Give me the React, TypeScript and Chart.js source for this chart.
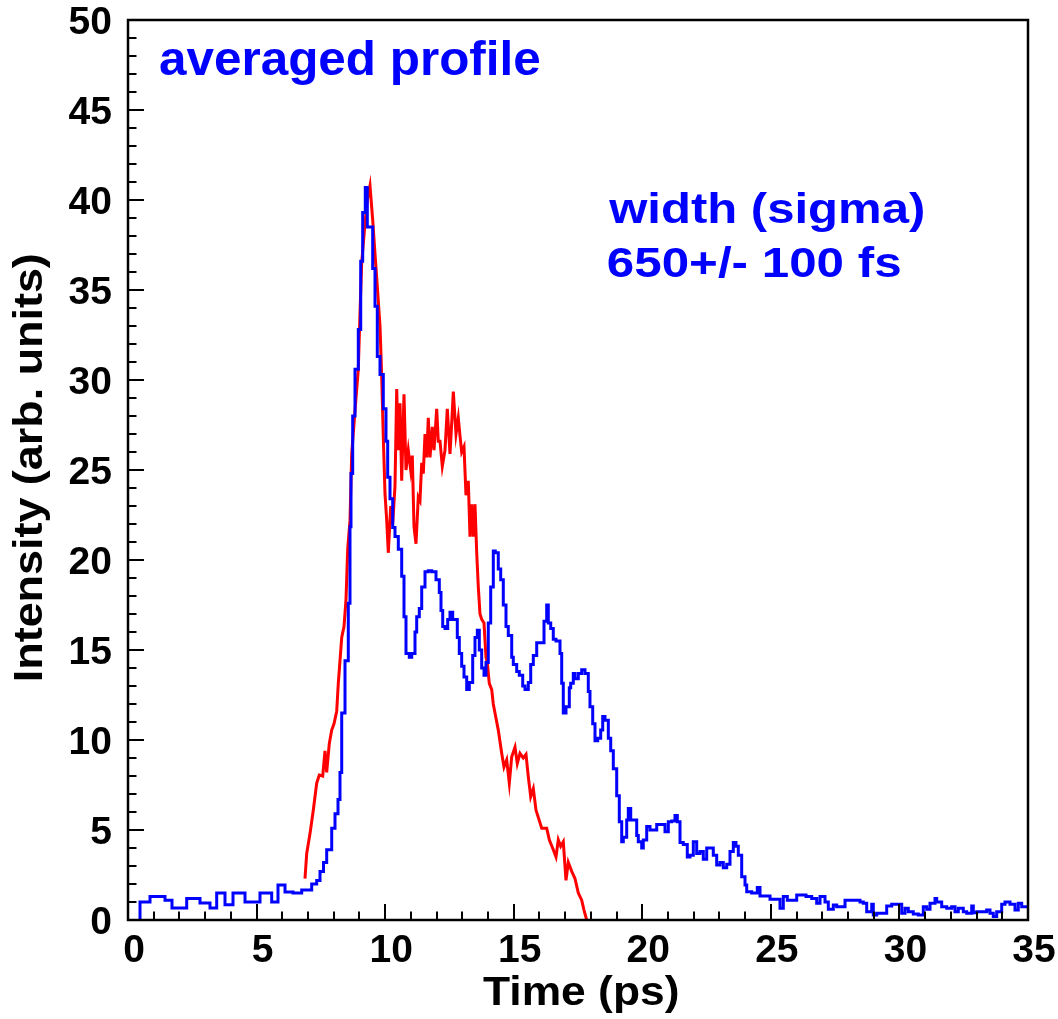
import React, { useEffect, useRef } from "react";
import { Chart, registerables } from "chart.js";

Chart.register(...registerables);

// ---- data ----
const blueX = [
  0.467, 0.467, 0.856, 1.439, 1.711, 2.283, 2.800, 3.189, 3.449, 3.772,
  4.083, 4.550, 5.133, 5.588, 5.833, 6.106, 6.417, 6.755, 7.144, 7.338,
  7.467, 7.603, 7.727, 7.922, 8.050, 8.167, 8.244, 8.311, 8.439, 8.567,
  8.633, 8.672, 8.738, 8.828, 8.956, 9.050, 9.127, 9.228, 9.306, 9.516,
  9.606, 9.695, 9.800, 9.928, 10.033, 10.099, 10.189, 10.294, 10.383, 10.512,
  10.644, 10.733, 10.811, 10.939, 11.033, 11.161, 11.227, 11.328, 11.422, 11.550,
  11.678, 11.811, 11.978, 12.106, 12.172, 12.239, 12.328, 12.433, 12.522, 12.627,
  12.806, 12.884, 12.977, 13.067, 13.172, 13.273, 13.405, 13.494, 13.584, 13.662,
  13.755, 13.844, 13.922, 14.011, 14.105, 14.206, 14.284, 14.400, 14.494, 14.595,
  14.700, 14.789, 14.922, 14.984, 15.116, 15.217, 15.350, 15.439, 15.567, 15.661,
  15.762, 15.894, 16.178, 16.283, 16.345, 16.439, 16.539, 16.644, 16.800, 16.866,
  16.928, 17.033, 17.162, 17.216, 17.317, 17.383, 17.512, 17.644, 17.772, 17.900,
  17.966, 18.072, 18.161, 18.266, 18.383, 18.461, 18.550, 18.679, 18.772, 18.873,
  19.005, 19.106, 19.200, 19.262, 19.394, 19.456, 19.550, 19.783, 19.845, 19.977,
  20.039, 20.172, 20.300, 20.561, 20.883, 21.012, 21.144, 21.272, 21.362, 21.467,
  21.595, 21.750, 21.855, 21.984, 22.116, 22.244, 22.373, 22.505, 22.761, 22.894,
  23.022, 23.150, 23.283, 23.411, 23.540, 23.644, 23.734, 23.866, 23.995, 24.061,
  24.255, 24.473, 24.578, 24.967, 25.356, 25.484, 25.640, 26.005, 26.367, 26.589,
  26.783, 26.912, 27.106, 27.234, 27.429, 27.561, 27.884, 28.467, 28.595, 28.727,
  28.922, 28.984, 29.116, 29.505, 29.700, 30.089, 30.217, 30.345, 30.539, 30.734,
  30.928, 31.061, 31.189, 31.383, 31.450, 31.644, 31.839, 32.033, 32.161, 32.289,
  32.484, 32.616, 32.811, 32.873, 33.005, 33.394, 33.522, 33.650, 33.783, 33.977,
  34.106, 34.300, 34.494, 34.622, 34.755, 34.883, 35.000,
];
const blueY = [
  0, 0.74, 1.0, 1.3, 1.1, 0.67, 1.2, 0.95, 0.67, 1.5,
  0.85, 1.5, 1.0, 1.5, 1.0, 1.95, 1.55, 1.5, 1.67, 2.0,
  2.2, 2.7, 3.2, 3.9, 5.1, 5.9, 6.7, 8.2, 11.5, 14.4,
  17.6, 21.85, 24.8, 28.0, 30.6, 32.8, 36.6, 39.3, 40.7, 38.5,
  36.2, 34.1, 31.3, 30.3, 28.4, 26.6, 24.6, 23.4, 21.8, 21.3,
  20.6, 19.1, 16.85, 14.8, 14.6, 14.8, 16.0, 16.85, 17.3, 18.5,
  19.35, 19.4, 19.35, 18.9, 18.2, 17.2, 16.3, 16.2, 16.7, 17.1,
  16.7, 15.7, 14.8, 14.1, 13.5, 12.8, 13.2, 14.7, 15.7, 16.1,
  15.0, 14.0, 13.6, 14.3, 16.5, 18.5, 20.5, 20.4, 19.5, 18.9,
  17.5, 16.3, 15.8, 14.6, 14.2, 13.8, 13.6, 13.0, 12.8, 13.2,
  14.2, 14.7, 15.4, 16.6, 17.5, 16.5, 16.2, 15.6, 15.5, 14.8,
  13.15, 11.5, 11.85, 12.9, 13.15, 13.7, 13.4, 13.7, 13.9, 13.7,
  12.7, 11.85, 10.9, 9.96, 10.1, 10.55, 11.3, 11.1, 10.1, 9.4,
  8.4, 6.9, 5.46, 4.35, 4.6, 5.55, 6.2, 5.55, 4.7, 4.35,
  4.0, 4.45, 5.2, 5.0, 5.3, 4.9, 5.46, 5.5, 5.8, 5.46,
  4.3, 4.2, 3.5, 3.6, 4.35, 3.7, 3.8, 3.37, 4.0, 3.6,
  3.05, 3.2, 2.9, 3.1, 3.8, 4.3, 4.1, 3.6, 2.4, 1.95,
  1.57, 1.5, 1.8, 1.33, 1.15, 0.65, 1.3, 1.1, 1.39, 1.3,
  1.2, 0.93, 1.3, 1.0, 0.6, 0.83, 0.74, 1.1, 1.0, 0.93,
  0.46, 0.87, 0.28, 0.37, 0.78, 0.87, 0.37, 0.65, 0.46, 0.33,
  0.28, 0.74, 0.6, 0.93, 1.2, 1.0, 0.74, 0.65, 0.74, 0.46,
  0.65, 0.46, 0.37, 0.78, 0.4, 0.46, 0.55, 0.37, 0.2, 0.46,
  0.87, 1.0, 0.87, 0.55, 0.93, 0.74, 0.74,
];

const redX = [
  6.883, 6.950, 7.078, 7.206, 7.338, 7.439, 7.572, 7.661, 7.727, 7.828,
  7.922, 8.011, 8.116, 8.178, 8.244, 8.311, 8.400, 8.478, 8.544, 8.633,
  8.700, 8.828, 8.956, 9.022, 9.088, 9.217, 9.306, 9.411, 9.516, 9.606,
  9.695, 9.800, 9.866, 9.928, 9.994, 10.061, 10.123, 10.217, 10.294, 10.383,
  10.450, 10.512, 10.578, 10.644, 10.733, 10.811, 10.900, 10.994, 11.056, 11.122,
  11.200, 11.289, 11.355, 11.422, 11.484, 11.550, 11.616, 11.678, 11.745, 11.834,
  11.900, 12.005, 12.067, 12.133, 12.223, 12.328, 12.417, 12.522, 12.588, 12.651,
  12.756, 12.845, 12.911, 12.977, 13.067, 13.144, 13.234, 13.300, 13.366, 13.428,
  13.494, 13.561, 13.623, 13.689, 13.755, 13.844, 13.922, 13.973, 14.050, 14.144,
  14.206, 14.272, 14.400, 14.533, 14.622, 14.727, 14.828, 14.922, 15.050, 15.139,
  15.244, 15.373, 15.478, 15.567, 15.661, 15.762, 15.867, 15.956, 16.089, 16.283,
  16.384, 16.539, 16.644, 16.734, 16.827, 16.928, 17.033, 17.123, 17.256, 17.383,
  17.512, 17.644, 17.733, 17.838,
];
const redY = [
  2.3, 3.7, 4.8, 6.1, 7.6, 8.05, 8.0, 9.4, 8.2, 9.8,
  10.55, 10.9, 11.6, 13.15, 14.4, 15.7, 16.3, 17.8, 20.6, 22.2,
  25.9, 28.3, 30.6, 33.7, 36.5, 38.7, 40.0, 40.8, 38.9, 37.0,
  35.2, 33.0, 30.2, 26.85, 23.7, 22.2, 20.4, 23.0, 22.0, 24.1,
  29.5, 26.1, 28.7, 24.4, 29.2, 25.0, 26.1, 25.0, 25.8, 21.85,
  20.9, 23.5, 23.3, 25.4, 24.8, 27.0, 25.7, 27.9, 25.7, 27.4,
  26.1, 28.4, 26.6, 26.6, 25.2, 26.1, 28.4, 25.9, 27.6, 29.35,
  27.0, 27.9, 26.9, 26.0, 26.3, 23.6, 24.4, 21.3, 23.1, 21.3,
  23.1, 20.4, 18.5, 17.0, 16.7, 16.5, 14.6, 14.3, 13.15, 12.8,
  12.0, 11.5, 10.55, 9.26, 8.5, 8.9, 7.6, 9.07, 9.6, 8.7,
  9.26, 9.0, 9.2, 7.96, 6.85, 7.3, 6.1, 5.7, 5.1, 5.1,
  4.45, 3.9, 3.5, 4.45, 4.1, 4.35, 2.2, 3.2, 2.7, 2.3,
  1.5, 1.1, 0.55, 0.0,
];

const xRange = [0, 35];
const yRange = [0, 50];
const xMajorStep = 5;
const yMajorStep = 5;
const minorStep = 1;

const xTitle = "Time (ps)";
const yTitle = "Intensity (arb. units)";
const noteTitle = "averaged profile";
const noteWidth = ["width (sigma)", "650+/- 100 fs"];

const FONT = "'Liberation Sans', Arial, Helvetica, sans-serif";

function drawFitted(
  ctx: CanvasRenderingContext2D,
  text: string,
  left: number,
  baseline: number,
  size: number,
  inkWidth: number,
  color: string,
  rotate = false
) {
  ctx.save();
  ctx.font = `bold ${size}px ${FONT}`;
  ctx.fillStyle = color;
  ctx.textAlign = "left";
  ctx.textBaseline = "alphabetic";
  const m = ctx.measureText(text);
  const ink = m.actualBoundingBoxLeft + m.actualBoundingBoxRight;
  const sx = inkWidth / ink;
  if (rotate) {
    ctx.translate(baseline, left);
    ctx.rotate(-Math.PI / 2);
  } else {
    ctx.translate(left, baseline);
  }
  ctx.scale(sx, 1);
  ctx.fillText(text, m.actualBoundingBoxLeft, 0);
  ctx.restore();
}

const framePlugin = {
  id: "frame",
  afterDatasetsDraw(chart: any) {
    const { ctx, chartArea, scales } = chart;
    const { left, right, top, bottom } = chartArea;
    const xs = scales.x;
    const ys = scales.y;
    ctx.save();
    ctx.strokeStyle = "#000";
    ctx.lineWidth = 2;
    ctx.beginPath();
    for (let v = xRange[0]; v <= xRange[1]; v += minorStep) {
      const px = Math.round(xs.getPixelForValue(v));
      const len = v % xMajorStep === 0 ? 16 : 8.5;
      ctx.moveTo(px, bottom);
      ctx.lineTo(px, bottom - len);
    }
    for (let v = yRange[0]; v <= yRange[1]; v += minorStep) {
      const py = Math.round(ys.getPixelForValue(v));
      const len = v % yMajorStep === 0 ? 16 : 8.5;
      ctx.moveTo(left, py);
      ctx.lineTo(left + len, py);
    }
    ctx.stroke();
    ctx.lineWidth = 2.5;
    ctx.strokeRect(left, top, right - left, bottom - top);
    ctx.restore();
  },
  afterDraw(chart: any) {
    const ctx = chart.ctx as CanvasRenderingContext2D;
    drawFitted(ctx, noteTitle, 160, 75, 48, 380, "#0000ff");
    drawFitted(ctx, noteWidth[0], 608, 223, 42, 315, "#0000ff");
    drawFitted(ctx, noteWidth[1], 608, 277, 42, 292, "#0000ff");
    drawFitted(ctx, xTitle, 483, 1005, 40, 195, "#000");
    drawFitted(ctx, yTitle, 680, 42, 41, 425, "#000", true);
  },
};

export default function App() {
  const ref = useRef<HTMLCanvasElement>(null);
  useEffect(() => {
    const canvas = ref.current!;
    const tickFont = { family: FONT, weight: "bold" as const, size: 39 };
    const chart = new Chart(canvas, {
      type: "line",
      data: {
        datasets: [
          {
            data: blueX.map((x, i) => ({ x, y: blueY[i] })),
            borderColor: "#0000ff",
            borderWidth: 3,
            stepped: "after",
            pointRadius: 0,
            fill: false,
          },
          {
            data: redX.map((x, i) => ({ x, y: redY[i] })),
            borderColor: "#ff0000",
            borderWidth: 3,
            pointRadius: 0,
            fill: false,
            tension: 0,
          },
        ],
      },
      options: {
        animation: false,
        responsive: false,
        layout: { padding: { left: 0, right: 30, top: 20, bottom: 0 } },
        plugins: { legend: { display: false }, tooltip: { enabled: false } },
        scales: {
          x: {
            type: "linear",
            min: xRange[0],
            max: xRange[1],
            grid: { display: false, drawTicks: false },
            border: { display: false },
            ticks: {
              stepSize: xMajorStep,
              font: tickFont,
              color: "#000",
              padding: 8,
              labelOffset: 6,
              maxRotation: 0,
              autoSkip: false,
            },
            afterFit(s: any) {
              s.height = 99;
              s.paddingLeft = 0;
              s.paddingRight = 0;
            },
          },
          y: {
            type: "linear",
            min: yRange[0],
            max: yRange[1],
            grid: { display: false, drawTicks: false },
            border: { display: false },
            ticks: {
              stepSize: yMajorStep,
              font: tickFont,
              color: "#000",
              padding: 16,
              labelOffset: 3,
              autoSkip: false,
            },
            afterFit(s: any) {
              s.width = 128;
              s.paddingTop = 0;
              s.paddingBottom = 0;
            },
          },
        },
      },
      plugins: [framePlugin],
    } as any);
    return () => chart.destroy();
  }, []);
  return (
    <div style={{ position: "absolute", left: 0, top: 0, width: 1058, height: 1019, background: "#fff" }}>
      <canvas ref={ref} width={1058} height={1019} style={{ display: "block", width: 1058, height: 1019 }} />
    </div>
  );
}
